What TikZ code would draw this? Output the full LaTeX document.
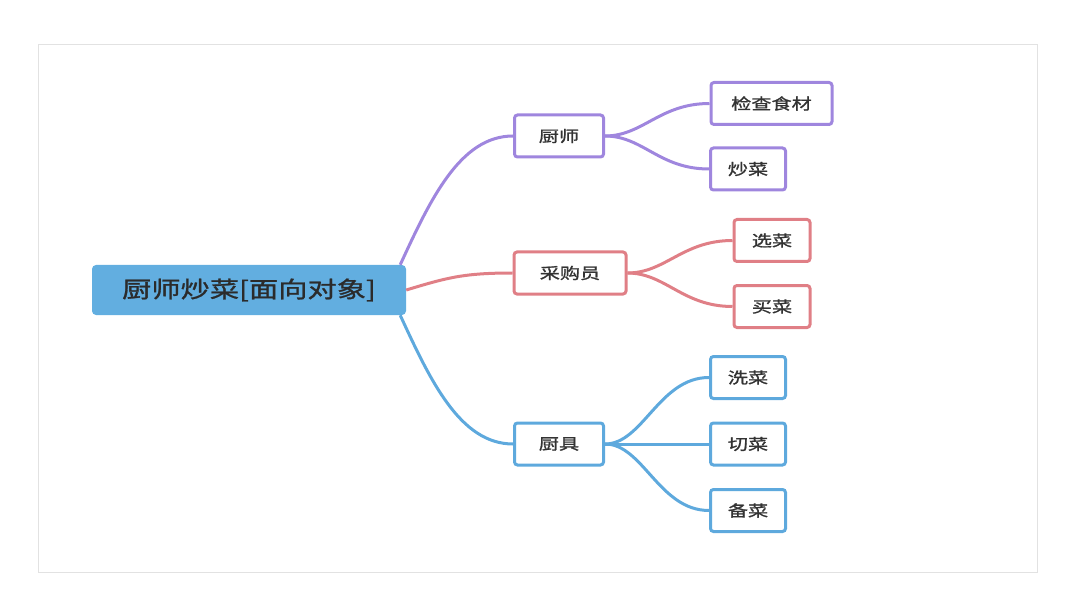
\documentclass[tikz,border=0pt]{standalone}
\usepackage{fontspec}
\newfontfamily\cjk{Noto Sans CJK SC}[FakeStretch=1.3,FakeBold=1.2]
\definecolor{purp}{HTML}{9F86DE}
\definecolor{redl}{HTML}{E07F86}
\definecolor{bluel}{HTML}{5EA9DD}
\definecolor{rootfill}{HTML}{62AEE0}
\definecolor{txt}{HTML}{333333}
\definecolor{frame}{HTML}{E2E2E2}
\begin{document}
\begin{tikzpicture}[x=1pt,y=-1pt,
  cbox/.style={draw=#1, line width=3pt, fill=white, rounded corners=3pt,
    minimum height=42pt, inner sep=0pt, text=txt,
    font=\cjk\fontsize{15.5}{15.5}\selectfont},
  conn/.style={draw=#1, line width=3pt},
  rootbox/.style={fill=rootfill, rounded corners=4pt, minimum width=314pt,
    minimum height=50pt, inner sep=0pt, text=txt!85!black,
    font=\cjk\fontsize{22.5}{22.5}\selectfont}]
\useasboundingbox (0,0) rectangle (1090,596);
\draw[frame, line width=1pt] (38,45) rectangle (1037,572);

\node[rootbox] (root) at (249,290) {厨师炒菜[面向对象]};

\node[cbox=purp, minimum width=89pt] (chef) at (559,136) {厨师};
\node[cbox=purp, minimum width=121pt] (check) at (771.5,103.5) {检查食材};
\node[cbox=purp, minimum width=75pt] (cook) at (748,169) {炒菜};

\node[cbox=redl, minimum width=112pt] (buyer) at (570,273) {采购员};
\node[cbox=redl, minimum width=76pt] (pick) at (772,240.5) {选菜};
\node[cbox=redl, minimum width=76pt] (buy) at (772,306.5) {买菜};

\node[cbox=bluel, minimum width=89pt] (tool) at (559,444) {厨具};
\node[cbox=bluel, minimum width=75pt] (wash) at (748,377.5) {洗菜};
\node[cbox=bluel, minimum width=75pt] (cut) at (748,444) {切菜};
\node[cbox=bluel, minimum width=75pt] (prep) at (748,510.5) {备菜};

\path[conn=purp] ([xshift=-6pt]root.north east) .. controls +(30,-65) and +(-53,0) .. (chef.west);
\path[conn=redl] (root.east) .. controls +(40,-12) and +(-50,0) .. (buyer.west);
\path[conn=bluel] ([xshift=-6pt]root.south east) .. controls +(30,65) and +(-53,0) .. (tool.west);

\path[conn=purp] (chef.east) .. controls +(38,0) and +(-50,0) .. (check.west);
\path[conn=purp] (chef.east) .. controls +(38,0) and +(-50,0) .. (cook.west);

\path[conn=redl] (buyer.east) .. controls +(38,0) and +(-50,0) .. (pick.west);
\path[conn=redl] (buyer.east) .. controls +(38,0) and +(-50,0) .. (buy.west);

\path[conn=bluel] (tool.east) .. controls +(38,0) and +(-50,0) .. (wash.west);
\path[conn=bluel] (tool.east) -- (cut.west);
\path[conn=bluel] (tool.east) .. controls +(38,0) and +(-50,0) .. (prep.west);
\end{tikzpicture}
\end{document}
